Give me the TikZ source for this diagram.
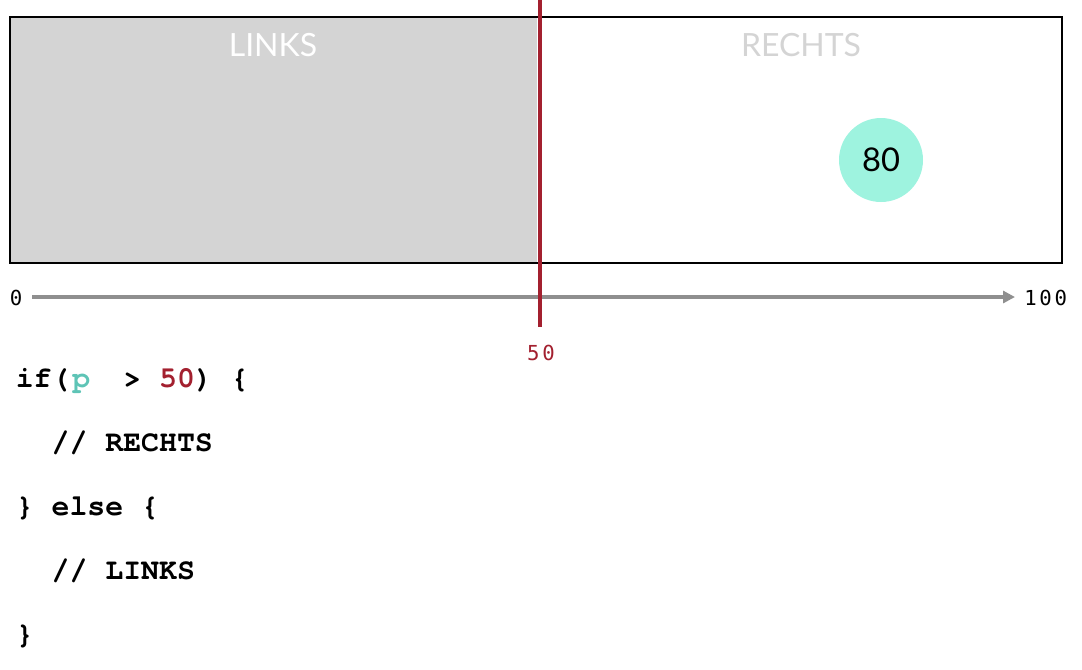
\documentclass[tikz,border=0pt]{standalone}
\usepackage{fontspec}
\usetikzlibrary{arrows.meta}
\newfontfamily\labreg{Lato}
\newfontfamily\codefont{texgyrecursor}[Extension=.otf, UprightFont=*-bold]
\newfontfamily\axfont{DejaVu Sans Mono}[LetterSpace=13]
\definecolor{greyfill}{HTML}{D4D4D4}
\definecolor{redline}{HTML}{A3202F}
\definecolor{mint}{HTML}{9EF3DF}
\definecolor{axisgrey}{HTML}{8F8F8F}
\definecolor{tealp}{HTML}{5EC4B6}
\tikzset{
  half/.style={font=\labreg\fontsize{24pt}{28pt}\selectfont, inner sep=0pt},
  axlabel/.style={font=\axfont\fontsize{15.5pt}{18pt}\selectfont, inner sep=0pt},
  codeline/.style={font=\codefont\fontsize{22.4pt}{26pt}\selectfont, inner sep=0pt, anchor=base west},
  ball/.style={circle, fill=mint, minimum size=63pt, inner sep=0pt, font=\labreg\fontsize{24.5pt}{28pt}\selectfont},
}
\begin{document}
\begin{tikzpicture}[x=0.75pt,y=-0.75pt]
\useasboundingbox (0,0) rectangle (1082,669);
% box
\fill[greyfill] (10,17) rectangle (537,262);
\draw[line width=1.5pt] (9.5,16.5) rectangle (1061.5,262.5);
\node[half, text=white] (links) at (273,45) {LINKS};
\node[half, text=greyfill] (rechts) at (801,45) {RECHTS};
\node[ball] (ball) at (881,160) {80};
% axis
\coordinate (axs) at (32,297);
\coordinate (axe) at (1015,297);
\draw[axisgrey, line width=2.4pt, -{Triangle[length=9pt,width=9pt]}] (axs) -- (axe);
\node[axlabel] (zero) at (16,298) {0};
\node[axlabel, anchor=west] (hundred) at (1024,298) {100};
% threshold line
\coordinate (rtop) at (540,0);
\coordinate (rbot) at (540,327);
\draw[redline, line width=2.5pt] (rtop) -- (rbot);
\node[axlabel, text=redline] (fifty) at (541,353) {50};
% code
\node[codeline] (c1) at (15.5,387) {if(\kern2.2pt{\color{tealp}p}\kern-2.2pt~~>~{\color{redline}50})~\{};
\node[codeline] (c2) at (15.5,451) {~~//~RECHTS};
\node[codeline] (c3) at (15.5,515) {\}~else~\{};
\node[codeline] (c4) at (15.5,579) {~~//~LINKS};
\node[codeline] (c5) at (15.5,643) {\}};
\end{tikzpicture}
\end{document}
